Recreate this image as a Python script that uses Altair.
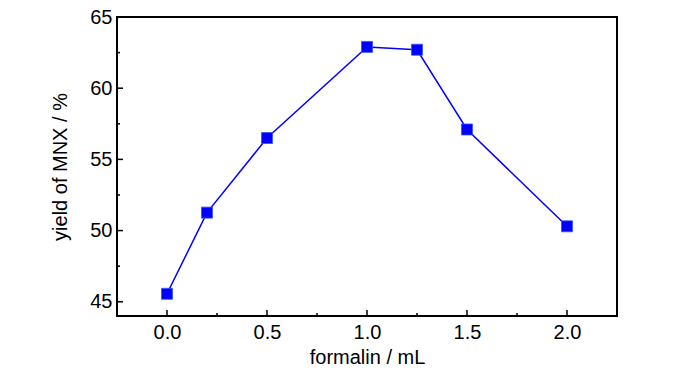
import altair as alt
import pandas as pd

formalin = [0.0, 0.2, 0.5, 1.0, 1.25, 1.5, 2.0]
yield_mnx = [45.56, 51.26, 56.5, 62.9, 62.7, 57.1, 50.3]

x_major = [0.0, 0.5, 1.0, 1.5, 2.0]
x_minor = [0.25, 0.75, 1.25, 1.75]
y_major = [45, 50, 55, 60, 65]
y_minor = [47.5, 52.5, 57.5, 62.5]

W, H = 500, 299
FONT = "Liberation Sans"

df = pd.DataFrame({"x": formalin, "y": yield_mnx})

xs = alt.Scale(domain=[-0.25, 2.25], nice=False, zero=False)
ys = alt.Scale(domain=[44, 65], nice=False, zero=False)

xaxis = alt.Axis(title="formalin / mL", values=x_major, format=".1f", ticks=False,
                 domain=False, grid=False, labelFontSize=20, labelFont=FONT,
                 labelColor="black", labelPadding=6, titleFontSize=20, titleFont=FONT,
                 titleFontWeight="normal", titleColor="black", titlePadding=5)
yaxis = alt.Axis(title="yield of MNX / %", values=y_major, format="d", ticks=False,
                 domain=False, grid=False, labelFontSize=20, labelFont=FONT,
                 labelColor="black", labelPadding=5, titleFontSize=20, titleFont=FONT,
                 titleFontWeight="normal", titleColor="black", titlePadding=19)

line = alt.Chart(df).mark_line(color="#0000ff", strokeWidth=1.5).encode(
    x=alt.X("x:Q", scale=xs, axis=xaxis),
    y=alt.Y("y:Q", scale=ys, axis=yaxis),
)
pts = alt.Chart(df).mark_square(color="#0000ff", size=121, opacity=1,
                                stroke="#3355ff", strokeWidth=0.8).encode(
    x=alt.X("x:Q", scale=xs), y=alt.Y("y:Q", scale=ys))

xmaj = alt.Chart(pd.DataFrame({"v": x_major})).mark_rule(color="black", strokeWidth=1.5).encode(
    x=alt.X("v:Q", scale=xs), y=alt.value(H), y2=alt.value(H - 6))
xmin = alt.Chart(pd.DataFrame({"v": x_minor})).mark_rule(color="black", strokeWidth=1.5).encode(
    x=alt.X("v:Q", scale=xs), y=alt.value(H), y2=alt.value(H - 3))
ymaj = alt.Chart(pd.DataFrame({"v": y_major})).mark_rule(color="black", strokeWidth=1.5).encode(
    y=alt.Y("v:Q", scale=ys), x=alt.value(0), x2=alt.value(6))
ymin = alt.Chart(pd.DataFrame({"v": y_minor})).mark_rule(color="black", strokeWidth=1.5).encode(
    y=alt.Y("v:Q", scale=ys), x=alt.value(0), x2=alt.value(3))

chart = alt.layer(line, xmaj, xmin, ymaj, ymin, pts).properties(
    width=W, height=H,
    background="white",
    autosize=alt.AutoSizeParams(type="none"),
    padding={"left": 109, "top": 9, "right": 67, "bottom": 56},
).configure_view(stroke="black", strokeWidth=2)

chart.save("out.html", embed_options={"renderer": "svg", "actions": False})
